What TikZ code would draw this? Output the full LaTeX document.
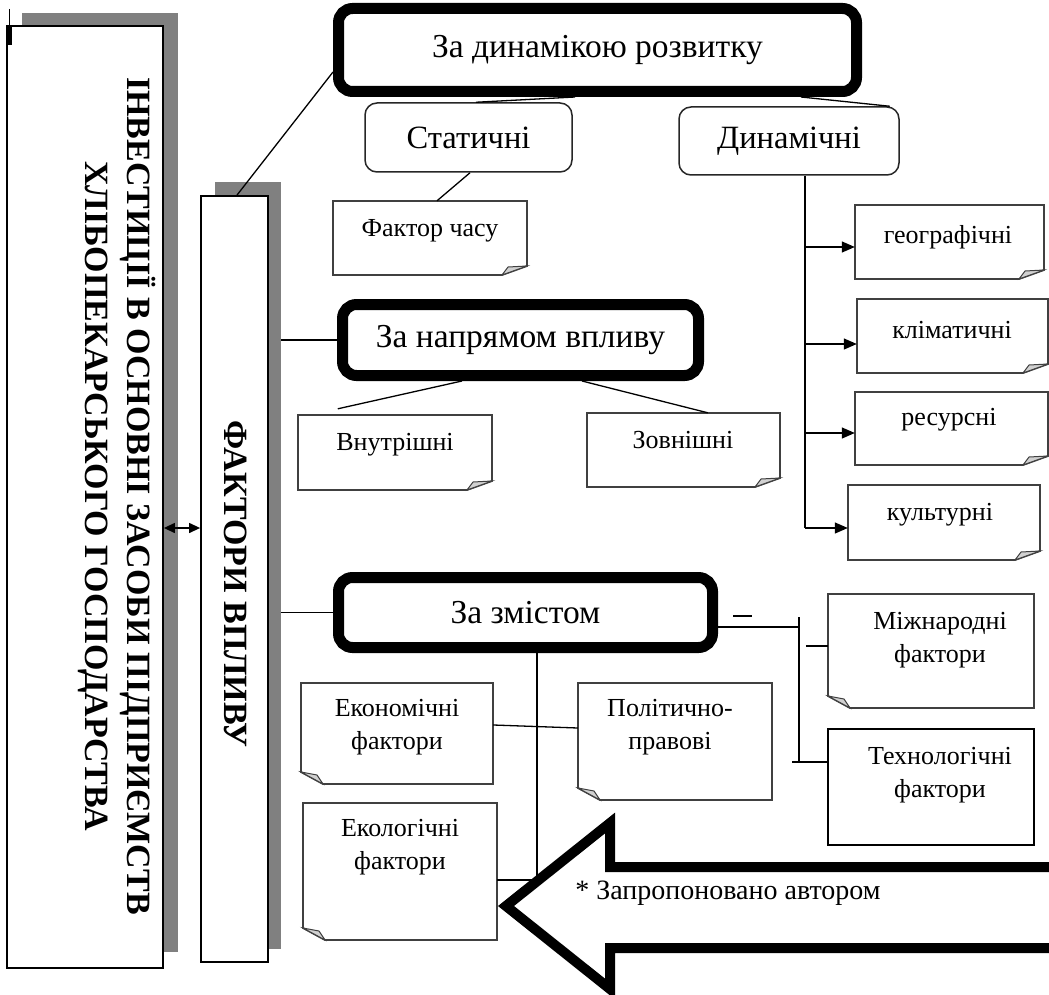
\documentclass[tikz,border=0pt]{standalone}
\usepackage{fontspec}
\setmainfont{Liberation Serif}
\usetikzlibrary{arrows.meta}
\definecolor{shadowgray}{HTML}{808080}
\definecolor{notegray}{HTML}{404040}
\newcommand\notebr[5]{%
  \node[notebase, minimum width={#4-#2}, minimum height={#5-#3}] (#1) at ({(#2+#4)/2},{(#3+#5)/2}) {};
  \draw[noteline] (#2,#3) -- (#4,#3) -- (#4,#5-9) -- (#4-25,#5) -- (#2,#5) -- cycle;
  \draw[foldst] (#4-25,#5) -- (#4-19,#5-8) -- (#4,#5-9) -- cycle;
}
\newcommand\notebl[5]{%
  \node[notebase, minimum width={#4-#2}, minimum height={#5-#3}] (#1) at ({(#2+#4)/2},{(#3+#5)/2}) {};
  \draw[noteline] (#2,#3) -- (#4,#3) -- (#4,#5) -- (#2+22,#5) -- (#2,#5-12) -- cycle;
  \draw[foldst] (#2,#5-12) -- (#2+16,#5-9) -- (#2+22,#5) -- cycle;
}
\begin{document}
\begin{tikzpicture}[x=1pt,y=-1pt,
  conn/.style={draw=black, line width=1.3pt},
  shadowbox/.style={fill=shadowgray, draw=none, inner sep=0pt},
  plainbox/.style={draw=black, line width=1.8pt, fill=white, inner sep=0pt},
  bigbox/.style={draw=black, line width=11pt, rounded corners=14pt, fill=white, inner sep=0pt, font=\fontsize{33.5}{38}\selectfont},
  roundbox/.style={draw=black!85, line width=1.5pt, rounded corners=12pt, fill=white, inner sep=0pt, font=\fontsize{32.5}{38}\selectfont},
  notebase/.style={inner sep=0pt, draw=none},
  noteline/.style={draw=notegray, line width=1.8pt, fill=white, line join=miter},
  foldst/.style={fill=black!18, draw=notegray, line width=1pt},
  small/.style={font=\fontsize{26}{33}\selectfont, align=center, inner sep=0pt},
  vert/.style={rotate=-90, font=\bfseries\fontsize{34}{42}\selectfont, align=center, inner sep=0pt},
  tip/.style={-{Triangle[length=13pt,width=11pt]}},
  dbl/.style={{Triangle[length=11pt,width=10pt]}-{Triangle[length=11pt,width=10pt]}},
]
\useasboundingbox (0,0) rectangle (1049,995);

% left boxes with shadows
\node[shadowbox, minimum width=156, minimum height=939] (invsh) at (100,482.5) {};
\node[plainbox, minimum width=156, minimum height=942] (inv) at (85,497) {};
\node[shadowbox, minimum width=66, minimum height=767] (fvsh) at (248,565.5) {};
\node[plainbox, minimum width=67, minimum height=766] (fv) at (234.5,579) {};
\draw[line width=1pt] (9.5,9) -- (9.5,25);
\fill (7,25) rectangle (12,45);

\node[vert] (invt) at (117,496) {ІНВЕСТИЦІЇ В ОСНОВНІ ЗАСОБИ ПІДПРИЄМСТВ\\ХЛІБОПЕКАРСЬКОГО ГОСПОДАРСТВА};
\node[vert] (fvt) at (236,584) {ФАКТОРИ ВПЛИВУ};

\coordinate (dy) at (0,528);
\draw[conn, dbl] (inv.east |- dy) -- (fv.west |- dy);

% top group
\node[bigbox, minimum width=518, minimum height=83] (dyn) at (597.5,50) {За динамікою розвитку};
\node[roundbox, minimum width=207, minimum height=69] (stat) at (468.5,137.5) {Статичні};
\node[roundbox, minimum width=220, minimum height=68] (dn) at (789,141) {Динамічні};
\draw[conn] ([xshift=2.5pt]fv.north) -- ([yshift=-22pt]dyn.west);
\draw[conn] ([xshift=-22.5pt]dyn.south) -- ([xshift=7.5pt]stat.north);
\draw[conn] ([xshift=203.5pt]dyn.south) -- ([xshift=-10pt]dn.north east);

\notebr{fc}{333}{201}{527}{275}
\node[small] (fct) at (430,231) {Фактор часу};
\draw[conn] ([xshift=1.5pt]stat.south) -- ([xshift=7pt]fc.north);

\notebr{geo}{855}{205}{1044}{279}
\notebr{clim}{857}{299}{1048}{373}
\notebr{res}{855}{392}{1048}{465}
\notebr{cult}{848}{485}{1040}{560}
\node[small] (geot) at (948,237) {географічні};
\node[small] (climt) at (952,330) {кліматичні};
\node[small] (rest) at (949,420) {ресурсні};
\node[small] (cultt) at (940,515) {культурні};

\coordinate (dtop) at ([xshift=16pt]dn.south);
\coordinate (dbot) at (805,528);
\draw[conn] (dtop) -- (dbot);
\coordinate (geotip) at ([yshift=-5pt]geo.west);
\coordinate (climtip) at ([yshift=-8pt]clim.west);
\coordinate (restip) at ([yshift=-4.5pt]res.west);
\coordinate (culttip) at ([yshift=-5.5pt]cult.west);
\draw[conn, tip] (dtop |- geotip) -- (geotip);
\draw[conn, tip] (dtop |- climtip) -- (climtip);
\draw[conn, tip] (dtop |- restip) -- (restip);
\draw[conn, tip] (dtop |- culttip) -- (culttip);

% middle group
\node[bigbox, minimum width=356, minimum height=71] (nap) at (520.5,340) {За напрямом впливу};
\draw[conn] (fvsh.east |- nap.west) -- (nap.west);
\notebr{vn}{298}{415}{492}{490}
\notebr{zn}{587}{413}{780}{487}
\node[small] (vnt) at (395,445) {Внутрішні};
\node[small] (znt) at (683,440) {Зовнішні};
\draw[conn] ([xshift=-58.5pt]nap.south) -- ([xshift=40pt,yshift=6pt]vn.north west);
\draw[conn] ([xshift=61.5pt]nap.south) -- ([xshift=121pt]zn.north west);

% bottom group
\node[bigbox, minimum width=374, minimum height=70] (zm) at (525.5,612.5) {За змістом};
\draw[conn] (fvsh.east |- zm.west) -- (zm.west);
\draw[conn] (733,616) -- (752,616);
\coordinate (ztop) at (799,617);
\coordinate (zbot) at (799,762);
\draw[conn] ([yshift=-14.5pt]zm.east) -- ([yshift=-14.5pt]zm.east -| ztop);
\draw[conn] (ztop) -- (zbot);

\notebl{mn}{828}{594}{1034}{708}
\node[small] (mnt) at (940,640) {Міжнародні\\фактори};
\node[plainbox, minimum width=206, minimum height=116] (tn) at (931,787) {};
\node[small] (tnt) at (940,775) {Технологічні\\фактори};
\draw[conn] ([xshift=-22pt,yshift=5pt]mn.west) -- ([yshift=5pt]mn.west);
\draw[conn] ([xshift=-35pt,yshift=25pt]tn.west) -- ([yshift=25pt]tn.west);

\notebl{ek}{301}{683}{493}{784}
\notebl{pp}{578}{683}{772}{800}
\notebl{ekol}{303}{803}{497}{940}
\node[small] (ekt) at (397,727) {Економічні\\фактори};
\node[small] (ppt) at (670,727) {Політично-\\правові};
\node[small] (ekolt) at (400,847) {Екологічні\\фактори};
\draw[conn] ([yshift=8.5pt]ek.east) -- ([yshift=13.5pt]pp.west);
\coordinate (vbot) at (537,880);
\draw[conn] ([xshift=11.5pt]zm.south) -- (vbot);
\draw[conn] ([yshift=-8.5pt]ekol.east) -- (vbot);

% big arrow (open to the right edge)
\fill[white] (1049,867) -- (610,867) -- (610,823) -- (506,906) -- (610,989) -- (610,948) -- (1049,948) -- cycle;
\draw[line width=10pt, line join=miter, miter limit=20] (1049,867) -- (610,867) -- (610,823) -- (506,906) -- (610,989) -- (610,948) -- (1049,948);
\node[small, font=\fontsize{28}{33}\selectfont] (note) at (728,893) {* Запропоновано автором};
\end{tikzpicture}
\end{document}
